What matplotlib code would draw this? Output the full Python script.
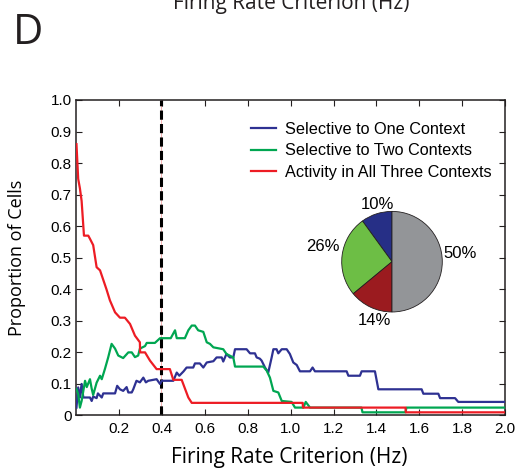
import matplotlib
matplotlib.use("Agg")
import matplotlib.pyplot as plt

# firing rate criterion (Hz) and proportion of cells for each group
one_x = [0, 0.008, 0.016, 0.024, 0.032, 0.063, 0.071, 0.078, 0.094, 0.1, 0.118, 0.125,
         0.18, 0.19, 0.203, 0.218, 0.234, 0.242, 0.258, 0.265, 0.28, 0.296, 0.312, 0.324,
         0.335, 0.374, 0.39, 0.398, 0.452, 0.468, 0.48, 0.5, 0.514, 0.545, 0.553, 0.576,
         0.592, 0.608, 0.639, 0.654, 0.678, 0.685, 0.70, 0.716, 0.732, 0.74, 0.794, 0.81,
         0.833, 0.841, 0.856, 0.864, 0.872, 0.88, 0.895, 0.911, 0.919, 0.934, 0.942, 0.958,
         0.981, 0.996, 1.012, 1.028, 1.043, 1.09, 1.102, 1.113, 1.261, 1.269, 1.323, 1.331,
         1.393, 1.409, 1.611, 1.619, 1.689, 1.697, 1.767, 1.782, 2.0]
one_y = [0.025, 0.089, 0.057, 0.1, 0.057, 0.057, 0.046, 0.06, 0.055, 0.07, 0.057, 0.07,
         0.07, 0.094, 0.083, 0.078, 0.09, 0.073, 0.073, 0.083, 0.11, 0.105, 0.12, 0.105,
         0.11, 0.115, 0.1, 0.11, 0.11, 0.136, 0.126, 0.14, 0.152, 0.152, 0.165, 0.165,
         0.152, 0.168, 0.172, 0.184, 0.184, 0.171, 0.195, 0.184, 0.184, 0.21, 0.21, 0.197,
         0.197, 0.184, 0.18, 0.174, 0.163, 0.152, 0.136, 0.184, 0.21, 0.21, 0.197, 0.21,
         0.21, 0.195, 0.168, 0.16, 0.14, 0.14, 0.152, 0.14, 0.14, 0.126, 0.126, 0.14,
         0.14, 0.083, 0.083, 0.069, 0.069, 0.055, 0.055, 0.043, 0.043]

two_x = [0, 0.008, 0.016, 0.024, 0.04, 0.048, 0.063, 0.071, 0.078, 0.094, 0.11, 0.118,
         0.133, 0.148, 0.164, 0.18, 0.195, 0.218, 0.242, 0.258, 0.273, 0.288, 0.296, 0.32,
         0.328, 0.366, 0.39, 0.44, 0.46, 0.468, 0.506, 0.522, 0.538, 0.553, 0.568, 0.592,
         0.608, 0.623, 0.639, 0.685, 0.70, 0.732, 0.74, 0.872, 0.888, 0.903, 0.919, 0.942,
         0.958, 1.004, 1.02, 1.059, 1.07, 1.09, 1.33, 1.335, 1.536, 1.54, 2.0]
two_y = [0.084, 0.068, 0.025, 0.046, 0.11, 0.09, 0.115, 0.085, 0.065, 0.104, 0.126, 0.115,
         0.148, 0.184, 0.227, 0.212, 0.19, 0.182, 0.2, 0.2, 0.185, 0.19, 0.212, 0.22,
         0.23, 0.23, 0.245, 0.245, 0.27, 0.245, 0.245, 0.27, 0.285, 0.285, 0.27, 0.265,
         0.232, 0.227, 0.216, 0.21, 0.195, 0.184, 0.155, 0.155, 0.142, 0.12, 0.078, 0.073,
         0.046, 0.043, 0.025, 0.025, 0.043, 0.025, 0.025, 0.01, 0.01, 0.025, 0.025]

all_x = [0, 0.008, 0.016, 0.024, 0.035, 0.055, 0.063, 0.078, 0.094, 0.11, 0.125, 0.14,
         0.156, 0.18, 0.203, 0.226, 0.25, 0.273, 0.296, 0.297, 0.32, 0.343, 0.374, 0.436,
         0.452, 0.491, 0.522, 0.538, 1.056, 1.057, 1.536, 1.537, 2.0]
all_y = [0.86, 0.75, 0.72, 0.68, 0.57, 0.57, 0.56, 0.54, 0.47, 0.46, 0.43, 0.40,
         0.365, 0.327, 0.31, 0.31, 0.29, 0.253, 0.232, 0.20, 0.20, 0.174, 0.147, 0.147,
         0.113, 0.113, 0.057, 0.04, 0.04, 0.025, 0.025, 0.01, 0.01]

criterion = 0.395

series_labels = ["Selective to One Context", "Selective to Two Contexts",
                 "Activity in All Three Contexts"]
line_colors = ["#2e3192", "#00a651", "#ed1c24"]

pie_values = [10, 26, 14, 50]
pie_labels = ["10%", "26%", "14%", "50%"]
pie_colors = ["#262f86", "#6dbe45", "#9b1b1f", "#939598"]

tick_font = "Liberation Sans"
label_font = "Open Sans"

fig = plt.figure(figsize=(5.22, 4.73), dpi=100)
ax = fig.add_axes([0.1465, 0.1216, 0.8209, 0.667])

ax.axvline(criterion, color="#f4a6a6", lw=0.6, zorder=1)
ax.axvline(criterion, color="black", lw=2.2, linestyle=(0, (3, 1.4)), zorder=2)

for xs, ys, lab, c in zip([one_x, two_x, all_x], [one_y, two_y, all_y],
                          series_labels, line_colors):
    ax.plot(xs, ys, color=c, lw=1.6, label=lab, zorder=3)

ax.set_xlim(0, 2.0)
ax.set_ylim(0, 1.0)
ax.set_xticks([0.2, 0.4, 0.6, 0.8, 1.0, 1.2, 1.4, 1.6, 1.8, 2.0])
ax.set_xticklabels(["0.2", "0.4", "0.6", "0.8", "1.0", "1.2", "1.4", "1.6", "1.8", "2.0"],
                   family=tick_font, fontsize=11)
ax.set_yticks([i / 10 for i in range(11)])
ax.set_yticklabels(["0"] + ["%.1f" % (i / 10) for i in range(1, 11)],
                   family=tick_font, fontsize=11)
ax.tick_params(direction="in", top=True, right=True, length=4, width=0.8,
               color="#231f20")
ax.tick_params(axis="x", pad=5)
for s in ax.spines.values():
    s.set_color("#231f20")
    s.set_linewidth(1.1)

ax.set_xlabel("Firing Rate Criterion (Hz)", family=label_font, fontsize=15)
ax.set_ylabel("Proportion of Cells", family=label_font, fontsize=13)
ax.xaxis.set_label_coords(0.496, -0.134)
ax.xaxis.label.set_va("center")
ax.yaxis.set_label_coords(-0.139, 0.5)
ax.yaxis.label.set_va("center")

leg = ax.legend(loc="upper left", bbox_to_anchor=(0.408, 0.931), frameon=False,
                handlelength=1.5, prop={"family": tick_font, "size": 11.7},
                labelspacing=0.4, borderaxespad=0, borderpad=0, handletextpad=0.6)

# pie inset
pax = fig.add_axes([0.6546, 0.3404, 0.1927, 0.2127])
pax.pie(pie_values, colors=pie_colors, startangle=90, counterclock=True,
        wedgeprops={"edgecolor": "#231f20", "linewidth": 0.6})
pax.set_xlim(-1, 1)
pax.set_ylim(-1, 1)
pax.set_aspect("equal")
pax.axis("off")
label_pos = [(-0.28, 1.14), (-1.37, 0.30), (-0.34, -1.17), (1.35, 0.16)]
for (px, py), t in zip(label_pos, pie_labels):
    pax.text(px, py, t, ha="center", va="center", family=tick_font, fontsize=12,
             clip_on=False)

fig.text(0.557, 1 - 9 / 473, "Firing Rate Criterion (Hz)", ha="center", va="baseline",
         family=label_font, fontsize=15, color="#231f20")
fig.text(0.024, 1 - 43.5 / 473, "D", ha="left", va="baseline", family=label_font,
         fontsize=30, color="#231f20")

fig.savefig("out.png", dpi=100)
